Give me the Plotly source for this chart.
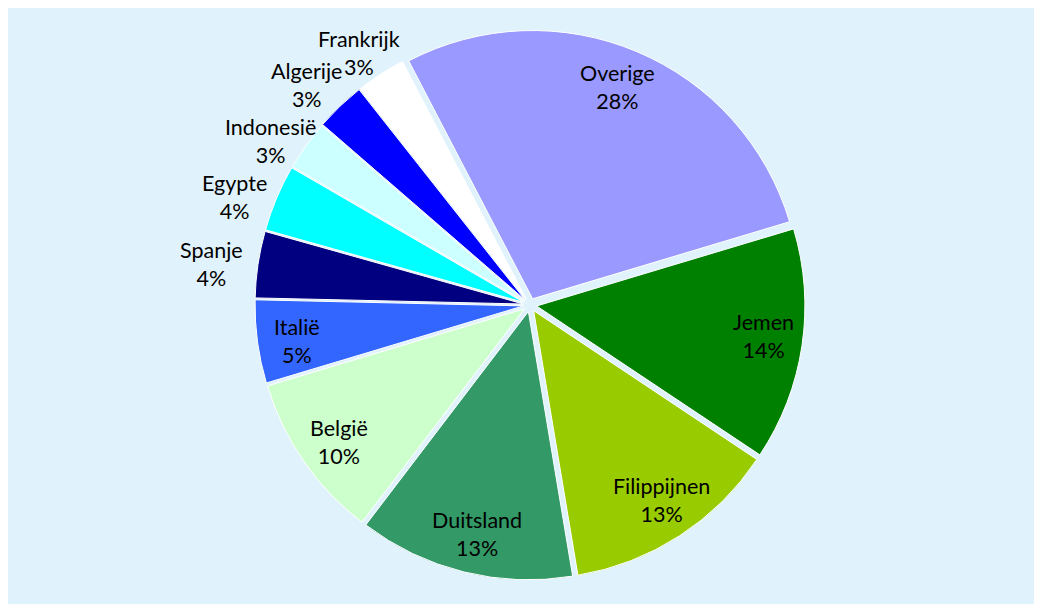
import math
import plotly.graph_objects as go

labels = ["Overige", "Jemen", "Filippijnen", "Duitsland", "België", "Italië",
          "Spanje", "Egypte", "Indonesië", "Algerije", "Frankrijk"]
values = [28, 14, 13, 13, 10, 5, 4, 4, 3, 3, 3]
colors = ["#9999FF", "#008000", "#99CC00", "#339966", "#CCFFCC", "#3366FF",
          "#000080", "#00FFFF", "#CCFFFF", "#0000FF", "#FFFFFF"]
label_outside = [False] * 6 + [True] * 5

W, H = 1042, 604
cx, cy, R = 522, 297, 275          # pie centre and outer extent (figure pixels)
PULL = 0.025
ROT = -27.5                          # start angle (deg, clockwise from 12 o'clock)
r_pie = R / (1 + PULL)
FS = 21.5
LH = 1.3 * FS                        # plotly line spacing

fig = go.Figure(go.Pie(
    labels=labels,
    values=values,
    sort=False,
    direction="clockwise",
    rotation=ROT,
    pull=[PULL] * len(values),
    marker=dict(colors=colors, line=dict(color="white", width=1)),
    textinfo="none",
    automargin=False,
    showlegend=False,
    hoverinfo="label+percent",
    domain=dict(x=[(cx - R) / W, (cx + R) / W], y=[(H - cy - R) / H, (H - cy + R) / H]),
))

# rough Lato advance widths (em) used for label collision avoidance
EM = {"F": .55, "r": .37, "a": .51, "n": .56, "k": .5, "i": .24, "j": .24, "A": .68,
      "l": .24, "g": .52, "e": .52, "I": .27, "d": .56, "o": .56, "s": .42, "ë": .52,
      "E": .56, "y": .5, "p": .56, "t": .35, "S": .5, "%": .8}


def text_w(s):
    return sum(EM.get(c, .58) for c in s) * FS


def line_boxes(lines, x, y):
    n = len(lines)
    boxes = []
    for k, ln in enumerate(lines):
        ly = y + (k - (n - 1) / 2) * LH
        w = text_w(ln)
        boxes.append((x - w / 2, x + w / 2, ly - LH / 2, ly + LH / 2))
    return boxes


total = sum(values)
items = []
start = ROT
for lab, val, out in zip(labels, values, label_outside):
    span = 360.0 * val / total
    mid = start + span / 2
    start += span
    s = abs(math.sin(math.radians(mid)))
    if out:
        ang = math.radians(mid - 1.2)
        rl = 1.063 * r_pie + 36 * s
    else:
        ang = math.radians(mid - 1.0)
        rl = 0.877 * r_pie
    items.append(dict(lines=[lab, f"{round(100 * val / total)}%"], out=out,
                      x=cx + rl * math.sin(ang), y=cy - rl * math.cos(ang)))

# resolve overlaps of outside labels, going from the top label downwards
outside = sorted([it for it in items if it["out"]], key=lambda it: it["y"])
placed = []
GAP = 2
for it in outside:
    for _ in range(20):
        mine = line_boxes(it["lines"], it["x"], it["y"])
        hit = None
        for b in placed:
            for m in mine:
                if m[0] < b[1] + GAP and b[0] < m[1] + GAP and m[2] < b[3] and b[2] < m[3]:
                    hit = (m, b)
                    break
            if hit:
                break
        if not hit:
            break
        m, b = hit
        push_down = b[3] - m[2]
        push_left = m[1] + GAP - b[0]
        if push_left <= push_down:
            it["x"] -= push_left
        else:
            it["y"] += push_down
    placed.extend(line_boxes(it["lines"], it["x"], it["y"]))

annotations = [dict(
    x=it["x"] / W, y=1 - it["y"] / H, xref="paper", yref="paper",
    text="<br>".join(it["lines"]),
    showarrow=False, xanchor="center", yanchor="middle", align="center",
    font=dict(family="Lato", size=FS, color="black"),
) for it in items]

fig.update_layout(
    width=W, height=H,
    margin=dict(l=0, r=0, t=0, b=0),
    paper_bgcolor="#E0F2FC",
    annotations=annotations,
)

fig.write_html("out.html")
